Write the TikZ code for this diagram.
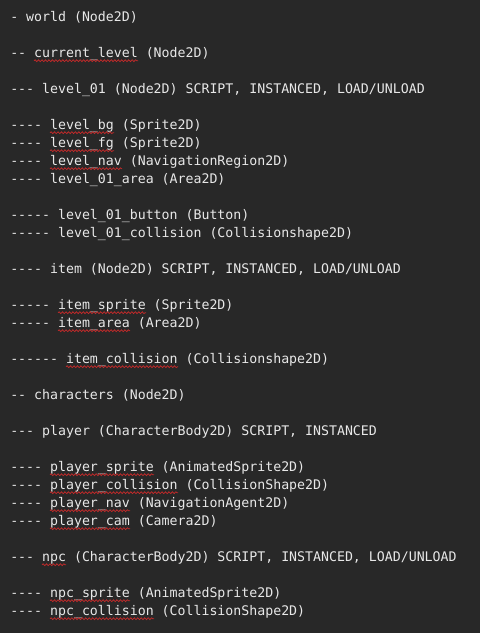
\documentclass[tikz,border=0pt]{standalone}
\usepackage{fontspec}
\setmonofont{DejaVu Sans Mono}
\usetikzlibrary{calc,decorations.pathmorphing}

\begin{document}
\begin{tikzpicture}[x=0.75pt,y=0.75pt,yscale=-1,xscale=1,
  row/.style={anchor=base west,inner sep=0pt,text={rgb,255:red,232;green,232;blue,232},font=\fontsize{9.93}{12}\ttfamily},
  squig/.style={draw={rgb,255:red,196;green,42;blue,42},line width=0.55pt,decorate,decoration={snake,amplitude=0.7pt,segment length=2.6pt}}]
%set diagram left start at 0, and has height of 633
\fill[color={rgb,255:red,40;green,40;blue,40}] (0,0) rectangle (480,633);
\useasboundingbox (0,0) rectangle (480,633);

% Text Node
\node[row] (world) at (10,21.7) {- world (Node2D)};
% Text Node
\node[row] (curlevel) at (10,57.7) {-- current\_level (Node2D)};
% Text Node
\node[row] (level01) at (10,93.7) {--- level\_01 (Node2D) SCRIPT, INSTANCED, LOAD/UNLOAD};
% Text Node
\node[row] (levelbg) at (10,129.7) {---- level\_bg (Sprite2D)};
% Text Node
\node[row] (levelfg) at (10,147.7) {---- level\_fg (Sprite2D)};
% Text Node
\node[row] (levelnav) at (10,165.7) {---- level\_nav (NavigationRegion2D)};
% Text Node
\node[row] (levelarea) at (10,183.7) {---- level\_01\_area (Area2D)};
% Text Node
\node[row] (levelbutton) at (10,219.7) {----- level\_01\_button (Button)};
% Text Node
\node[row] (levelcoll) at (10,237.7) {----- level\_01\_collision (Collisionshape2D)};
% Text Node
\node[row] (item) at (10,273.7) {---- item (Node2D) SCRIPT, INSTANCED, LOAD/UNLOAD};
% Text Node
\node[row] (itemsprite) at (10,309.7) {----- item\_sprite (Sprite2D)};
% Text Node
\node[row] (itemarea) at (10,327.7) {----- item\_area (Area2D)};
% Text Node
\node[row] (itemcoll) at (10,363.7) {------ item\_collision (Collisionshape2D)};
% Text Node
\node[row] (characters) at (10,399.7) {-- characters (Node2D)};
% Text Node
\node[row] (player) at (10,435.7) {--- player (CharacterBody2D) SCRIPT, INSTANCED};
% Text Node
\node[row] (playersprite) at (10,471.7) {---- player\_sprite (AnimatedSprite2D)};
% Text Node
\node[row] (playercoll) at (10,489.7) {---- player\_collision (CollisionShape2D)};
% Text Node
\node[row] (playernav) at (10,507.7) {---- player\_nav (NavigationAgent2D)};
% Text Node
\node[row] (playercam) at (10,525.7) {---- player\_cam (Camera2D)};
% Text Node
\node[row] (npc) at (10,561.7) {--- npc (CharacterBody2D) SCRIPT, INSTANCED, LOAD/UNLOAD};
% Text Node
\node[row] (npcsprite) at (10,597.7) {---- npc\_sprite (AnimatedSprite2D)};
% Text Node
\node[row] (npccoll) at (10,615.7) {---- npc\_collision (CollisionShape2D)};

%Squiggles (spell check)
\draw[squig] ($(curlevel.base west)+(24,3)$) -- +(104,0);
\draw[squig] ($(levelbg.base west)+(40,3)$) -- +(64,0);
\draw[squig] ($(levelfg.base west)+(40,3)$) -- +(64,0);
\draw[squig] ($(levelnav.base west)+(40,3)$) -- +(72,0);
\draw[squig] ($(itemsprite.base west)+(48,3)$) -- +(88,0);
\draw[squig] ($(itemarea.base west)+(48,3)$) -- +(72,0);
\draw[squig] ($(itemcoll.base west)+(56,3)$) -- +(112,0);
\draw[squig] ($(playersprite.base west)+(40,3)$) -- +(104,0);
\draw[squig] ($(playercoll.base west)+(40,3)$) -- +(128,0);
\draw[squig] ($(playernav.base west)+(40,3)$) -- +(80,0);
\draw[squig] ($(playercam.base west)+(40,3)$) -- +(80,0);
\draw[squig] ($(npc.base west)+(32,3)$) -- +(24,0);
\draw[squig] ($(npcsprite.base west)+(40,3)$) -- +(80,0);
\draw[squig] ($(npccoll.base west)+(40,3)$) -- +(104,0);

\end{tikzpicture}
\end{document}
